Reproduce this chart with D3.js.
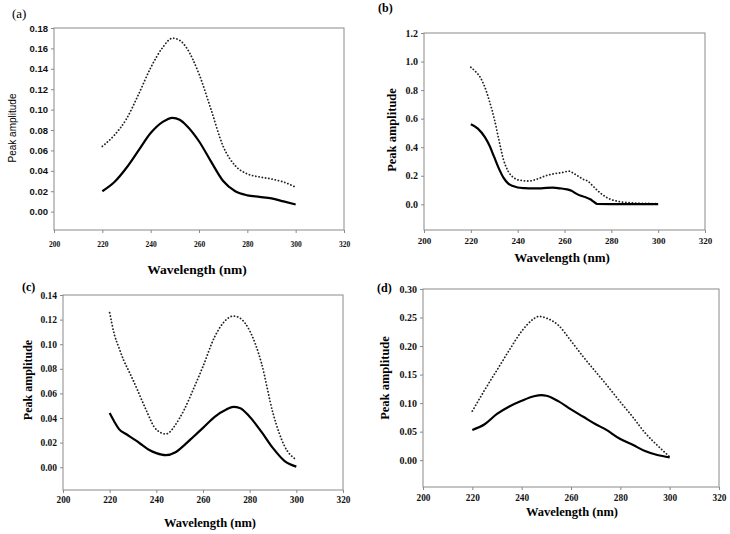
<!DOCTYPE html>
<html>
<head>
  <meta charset="utf-8">
  <script src="https://d3js.org/d3.v7.min.js"></script>
  <style>
    body { margin: 0; background: #fff; }
    svg { display: block; }
  </style>
</head>
<body>
<script>
  // wavelength ticks shared by all four panels
  var xTicks = [200, 220, 240, 260, 280, 300, 320];

  // (a)
  var aWl     = [220, 225, 230, 235, 240, 245, 249, 252, 255, 260, 265, 270, 275, 280, 285, 290, 295, 300];
  var aSolid  = [0.020, 0.029, 0.043, 0.060, 0.077, 0.088, 0.092, 0.090, 0.084, 0.069, 0.049, 0.030, 0.020, 0.016, 0.0145, 0.013, 0.010, 0.007];
  var aDotted = [0.064, 0.075, 0.091, 0.115, 0.141, 0.161, 0.170, 0.168, 0.160, 0.135, 0.100, 0.064, 0.045, 0.037, 0.034, 0.032, 0.029, 0.024];
  var aYTicks = [0, 0.02, 0.04, 0.06, 0.08, 0.10, 0.12, 0.14, 0.16, 0.18];

  // (b)
  var bSolidWl = [220, 223, 226, 228, 230, 232, 234, 236, 238, 240, 243, 246, 250, 255, 258, 261, 263, 265, 267, 269, 271, 272.5, 274, 280, 290, 300];
  var bSolid   = [0.56, 0.53, 0.47, 0.41, 0.33, 0.25, 0.185, 0.145, 0.128, 0.118, 0.113, 0.111, 0.112, 0.117, 0.112, 0.105, 0.095, 0.075, 0.060, 0.050, 0.035, 0.018, 0.002, 0.001, 0.001, 0.001];
  var bDottedWl = [220, 222, 224, 226, 228, 230, 232, 234, 236, 238, 240, 242, 245, 248, 252, 256, 259, 262, 264, 266, 268, 270, 272, 274, 276, 278, 280, 283, 286, 290, 295, 300];
  var bDotted   = [0.96, 0.93, 0.89, 0.82, 0.72, 0.60, 0.45, 0.31, 0.23, 0.19, 0.172, 0.166, 0.163, 0.175, 0.20, 0.215, 0.222, 0.232, 0.215, 0.195, 0.175, 0.162, 0.13, 0.098, 0.07, 0.048, 0.033, 0.02, 0.013, 0.009, 0.006, 0.005];
  var bYTicks = [0, 0.2, 0.4, 0.6, 0.8, 1.0, 1.2];

  // (c)
  var cSolidWl  = [220, 222, 224, 227, 231, 234, 237, 240, 244, 248, 252, 256, 260, 265, 270, 273, 276, 280, 285, 290, 295, 300];
  var cSolid    = [0.044, 0.037, 0.031, 0.027, 0.022, 0.018, 0.014, 0.0115, 0.0098, 0.012, 0.018, 0.025, 0.032, 0.041, 0.047, 0.049, 0.048, 0.041, 0.029, 0.0155, 0.005, 0.0005];
  var cDottedWl = [220, 222, 224, 226, 228, 230, 233, 236, 239, 242, 244, 246, 248, 252, 256, 260, 265, 270, 273, 276, 280, 285, 290, 295, 300];
  var cDotted   = [0.1256, 0.108, 0.097, 0.087, 0.079, 0.071, 0.058, 0.045, 0.033, 0.028, 0.027, 0.029, 0.034, 0.047, 0.064, 0.082, 0.106, 0.120, 0.1229, 0.121, 0.111, 0.085, 0.044, 0.017, 0.006];
  var cYTicks = [0, 0.02, 0.04, 0.06, 0.08, 0.10, 0.12, 0.14];

  // (d)
  var dWl     = [220, 225, 230, 235, 240, 245, 248, 250, 255, 260, 265, 270, 274, 280, 285, 290, 295, 300];
  var dSolid  = [0.053, 0.063, 0.081, 0.094, 0.104, 0.112, 0.114, 0.113, 0.103, 0.089, 0.076, 0.063, 0.054, 0.037, 0.027, 0.016, 0.009, 0.005];
  var dDottedWl = [220, 225, 230, 235, 240, 245, 247, 250, 255, 260, 265, 270, 275, 280, 285, 290, 295, 300];
  var dDotted   = [0.086, 0.123, 0.158, 0.193, 0.226, 0.248, 0.252, 0.249, 0.236, 0.209, 0.181, 0.155, 0.129, 0.102, 0.076, 0.048, 0.026, 0.006];
  var dYTicks = [0, 0.05, 0.10, 0.15, 0.20, 0.25, 0.30];

  var serif = "'Liberation Serif', 'Times New Roman', serif";
  var sans  = "'Liberation Sans', Arial, sans-serif";

  function zip(xs, ys) {
    return xs.map(function (x, i) { return [x, ys[i]]; });
  }

  var panels = [
    { tag: "(a)", tagX: 12, tagY: 18, tagWeight: "normal", tagSize: 13,
      box: [54, 28, 344, 230], yMin: -0.018, yMax: 0.18, yTicks: aYTicks, fmt: ".2f",
      solid: zip(aWl, aSolid), dotted: zip(aWl, aDotted),
      yFont: sans, yTickSize: 9.5, yTickWeight: "bold", yLab: { x: 13, y: 128, size: 10, font: sans, weight: "normal" },
      xTickSize: 7.5, xTickY: 245, xLab: { x: 197, y: 274, size: 13.5 } },
    { tag: "(b)", tagX: 378, tagY: 12, tagWeight: "bold", tagSize: 12,
      box: [424, 33, 705, 230], yMin: -0.18, yMax: 1.2, yTicks: bYTicks, fmt: ".1f",
      solid: zip(bSolidWl, bSolid), dotted: zip(bDottedWl, bDotted),
      yFont: serif, yTickSize: 10, yTickWeight: "bold", yLab: { x: 393, y: 130, size: 12.5, font: serif, weight: "bold" },
      xTickSize: 9, xTickY: 242, xLab: { x: 562, y: 261.5, size: 13 } },
    { tag: "(c)", tagX: 22, tagY: 291, tagWeight: "bold", tagSize: 12,
      box: [63, 295, 343, 490], yMin: -0.0185, yMax: 0.14, yTicks: cYTicks, fmt: ".2f",
      solid: zip(cSolidWl, cSolid), dotted: zip(cDottedWl, cDotted),
      yFont: serif, yTickSize: 9.5, yTickWeight: "bold", yLab: { x: 29, y: 380, size: 12, font: serif, weight: "bold" },
      xTickSize: 9.3, xTickY: 501, xLab: { x: 210, y: 527, size: 12.5 } },
    { tag: "(d)", tagX: 377, tagY: 292, tagWeight: "bold", tagSize: 12,
      box: [423, 289, 719, 487], yMin: -0.047, yMax: 0.30, yTicks: dYTicks, fmt: ".2f",
      solid: zip(dWl, dSolid), dotted: zip(dDottedWl, dDotted),
      yFont: serif, yTickSize: 10, yTickWeight: "bold", yLab: { x: 386, y: 378, size: 12.5, font: serif, weight: "bold" },
      xTickSize: 9.3, xTickY: 499, xLab: { x: 572, y: 516, size: 12.5 } }
  ];

  var svg = d3.select("body").append("svg")
      .attr("width", 730)
      .attr("height", 534);

  panels.forEach(function (p) {
    var x0 = p.box[0], y0 = p.box[1], x1 = p.box[2], y1 = p.box[3];
    var x = d3.scaleLinear().domain([200, 320]).range([x0, x1]);
    var y = d3.scaleLinear().domain([p.yMin, p.yMax]).range([y1, y0]);
    var g = svg.append("g");

    // frame
    g.append("rect")
      .attr("x", x0).attr("y", y0)
      .attr("width", x1 - x0).attr("height", y1 - y0)
      .attr("fill", "none")
      .attr("stroke", "#8a8a8a")
      .attr("stroke-width", 1);

    var yAxis = g.append("g")
      .attr("transform", "translate(" + x0 + ",0)")
      .call(d3.axisLeft(y).tickValues(p.yTicks).tickSize(3).tickPadding(3).tickFormat(d3.format(p.fmt)));
    var xAxis = g.append("g")
      .attr("transform", "translate(0," + y1 + ")")
      .call(d3.axisBottom(x).tickValues(xTicks).tickSize(3).tickPadding(3));

    [yAxis, xAxis].forEach(function (ax) {
      ax.select(".domain").remove();
      ax.selectAll(".tick line").attr("stroke", "#8a8a8a");
      ax.selectAll(".tick text").attr("fill", "#111");
    });
    yAxis.selectAll(".tick text")
      .style("font-family", p.yFont)
      .style("font-size", p.yTickSize + "px")
      .style("font-weight", p.yTickWeight);
    xAxis.selectAll(".tick text")
      .style("font-family", serif)
      .style("font-size", p.xTickSize + "px")
      .style("font-weight", "bold")
      .attr("dy", null)
      .attr("y", p.xTickY - y1)
      .attr("dominant-baseline", "middle");

    var line = d3.line()
      .x(function (d) { return x(d[0]); })
      .y(function (d) { return y(d[1]); })
      .curve(d3.curveMonotoneX);

    g.append("path")
      .datum(p.dotted)
      .attr("d", line)
      .attr("fill", "none")
      .attr("stroke", "#222")
      .attr("stroke-width", 1.8)
      .attr("stroke-linecap", "round")
      .attr("stroke-dasharray", "0.1,3.2");

    g.append("path")
      .datum(p.solid)
      .attr("d", line)
      .attr("fill", "none")
      .attr("stroke", "#000")
      .attr("stroke-width", 2.2)
      .attr("stroke-linejoin", "round");

    // labels
    svg.append("text")
      .attr("x", p.tagX).attr("y", p.tagY)
      .style("font-family", serif)
      .style("font-size", p.tagSize + "px")
      .style("font-weight", p.tagWeight)
      .text(p.tag);

    svg.append("text")
      .attr("x", p.xLab.x).attr("y", p.xLab.y)
      .attr("text-anchor", "middle")
      .style("font-family", serif)
      .style("font-size", p.xLab.size + "px")
      .style("font-weight", "bold")
      .text("Wavelength (nm)");

    svg.append("text")
      .attr("transform", "translate(" + p.yLab.x + "," + p.yLab.y + ") rotate(-90)")
      .attr("text-anchor", "middle")
      .attr("dominant-baseline", "middle")
      .style("font-family", p.yLab.font)
      .style("font-size", p.yLab.size + "px")
      .style("font-weight", p.yLab.weight)
      .text("Peak amplitude");
  });
</script>
</body>
</html>
